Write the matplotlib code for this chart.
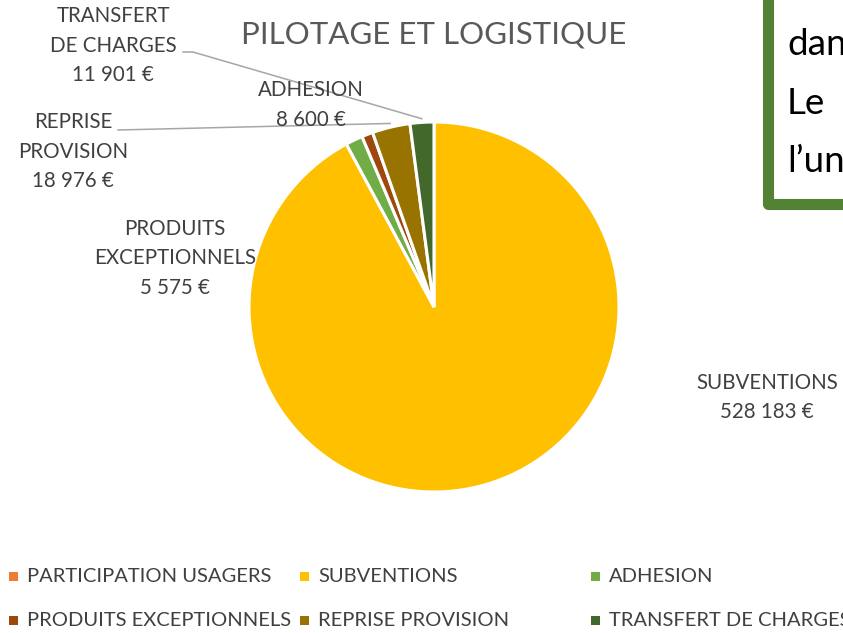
import matplotlib
matplotlib.use("Agg")
import matplotlib.pyplot as plt
from matplotlib.patches import Rectangle
from matplotlib.lines import Line2D
import numpy as np

# Data
categories = ["PARTICIPATION USAGERS", "SUBVENTIONS", "ADHESION",
              "PRODUITS EXCEPTIONNELS", "REPRISE PROVISION", "TRANSFERT DE CHARGES"]
values = [0, 528183, 8600, 5575, 18976, 11901]
colors = ["#ED7D31", "#FFC000", "#70AD47", "#9E480E", "#997300", "#43682B"]
label_lines = {
    "SUBVENTIONS": ["SUBVENTIONS"],
    "ADHESION": ["ADHESION"],
    "PRODUITS EXCEPTIONNELS": ["PRODUITS", "EXCEPTIONNELS"],
    "REPRISE PROVISION": ["REPRISE", "PROVISION"],
    "TRANSFERT DE CHARGES": ["TRANSFERT", "DE CHARGES"],
}
title = "PILOTAGE ET LOGISTIQUE"
note_lines = ["dans", "Le", "l\u2019un"]

W, H, DPI = 843, 633, 100
FONT = "Lato"
TXT = "#404040"
plt.rcParams["font.family"] = [FONT, "DejaVu Sans"]

fig = plt.figure(figsize=(W / DPI, H / DPI), dpi=DPI)


def fx(px):
    return px / W


def fy(py):
    return 1 - py / H


# Pie axes (pixel centre and radius)
cx, cy, r = 434, 307, 185
ax = fig.add_axes([fx(cx - r), fy(cy + r), 2 * r / W, 2 * r / H])
wedges, _ = ax.pie(values, colors=colors, startangle=90, counterclock=False,
                   radius=1.0, wedgeprops=dict(edgecolor="white", linewidth=2.2))
ax.set_xlim(-1, 1)
ax.set_ylim(-1, 1)
ax.set_aspect("equal")
ax.axis("off")

fig.text(fx(434), fy(35), title, ha="center", va="center",
         fontsize=22.5, color="#595959")


def fmt_eur(v):
    return f"{v:,}".replace(",", " ") + " \u20ac"


# Data labels: (centre x px, first line centre y px)
label_pos = {
    "SUBVENTIONS": (767, 383),
    "ADHESION": (311, 90),
    "PRODUITS EXCEPTIONNELS": (175, 229),
    "REPRISE PROVISION": (73, 122),
    "TRANSFERT DE CHARGES": (113, 16),
}
line_gap = 29.5
for name, val in zip(categories, values):
    if name not in label_pos:
        continue
    x0, y0 = label_pos[name]
    lines = label_lines[name] + [fmt_eur(val)]
    for k, s in enumerate(lines):
        fig.text(fx(x0), fy(y0 + k * line_gap), s, ha="center", va="center",
                 fontsize=14.8, color=TXT)


def wedge_point(name, frac=1.0):
    w = wedges[categories.index(name)]
    th = np.deg2rad((w.theta1 + w.theta2) / 2)
    return cx + frac * r * np.cos(th), cy - frac * r * np.sin(th)


# Leader lines
leader_color = "#A6A6A6"
ex, ey = wedge_point("TRANSFERT DE CHARGES", 1.02)
fig.add_artist(Line2D([fx(183), fx(193), fx(ex)], [fy(52), fy(52), fy(ey)],
                      color=leader_color, lw=1.1))
ex, ey = wedge_point("REPRISE PROVISION", 1.02)
fig.add_artist(Line2D([fx(118), fx(ex)], [fy(130), fy(ey)],
                      color=leader_color, lw=1.1))

# Legend (3 columns, 2 rows)
col_x = [9, 300, 591]
row_y = [576, 620]
for i, (name, c) in enumerate(zip(categories, colors)):
    col, row = i % 3, i // 3
    x, y = col_x[col], row_y[row]
    fig.add_artist(Rectangle((fx(x), fy(y + 4.5)), 8.5 / W, 8.5 / H,
                             transform=fig.transFigure, facecolor=c,
                             edgecolor="none"))
    fig.text(fx(x + 18), fy(y), name, ha="left", va="center",
             fontsize=14.5, color=TXT)

# Text box partly visible at top right
fig.add_artist(Rectangle((fx(767.5), fy(204)), 200 / W, 260 / H,
                         transform=fig.transFigure, facecolor="white",
                         edgecolor="#548235", linewidth=8, joinstyle="round"))
for k, s in enumerate(note_lines):
    fig.text(fx(787), fy(55 + k * 58.5), s, ha="left", va="baseline",
             fontsize=26.5, color="black")

fig.savefig("out.png", dpi=DPI)
